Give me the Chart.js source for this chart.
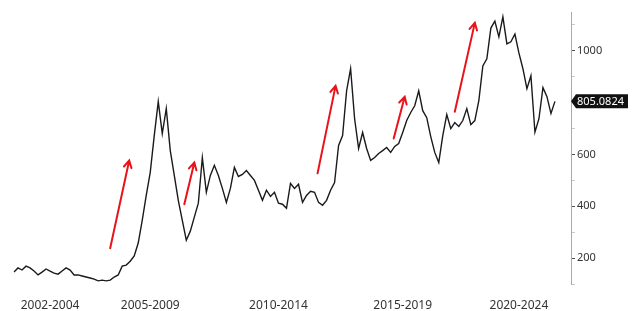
<!DOCTYPE html>
<html><head><meta charset="utf-8">
<script src="https://cdn.jsdelivr.net/npm/chart.js@4"></script>
<style>html,body{margin:0;padding:0;background:#fff;overflow:hidden}</style>
</head><body>
<canvas id="c" width="640" height="311"></canvas>
<script>
const dates = [
'2002-01','2002-03','2002-05','2002-07','2002-09','2002-11',
'2003-01','2003-03','2003-05','2003-07','2003-09','2003-11',
'2004-01','2004-03','2004-05','2004-07','2004-09','2004-11',
'2005-01','2005-03','2005-05','2005-07','2005-09','2005-11',
'2006-01','2006-03','2006-05','2006-07','2006-09','2006-11',
'2007-01','2007-03','2007-05','2007-07','2007-09','2007-11',
'2008-01','2008-03','2008-05','2008-07','2008-09','2008-11',
'2009-01','2009-03','2009-05','2009-07','2009-09','2009-11',
'2010-01','2010-03','2010-05','2010-07','2010-09','2010-11',
'2011-01','2011-03','2011-05','2011-07','2011-09','2011-11',
'2012-01','2012-03','2012-05','2012-07','2012-09','2012-11',
'2013-01','2013-03','2013-05','2013-07','2013-09','2013-11',
'2014-01','2014-03','2014-05','2014-07','2014-09','2014-11',
'2015-01','2015-03','2015-05','2015-07','2015-09','2015-11',
'2016-01','2016-03','2016-05','2016-07','2016-09','2016-11',
'2017-01','2017-03','2017-05','2017-07','2017-09','2017-11',
'2018-01','2018-03','2018-05','2018-07','2018-09','2018-11',
'2019-01','2019-03','2019-05','2019-07','2019-09','2019-11',
'2020-01','2020-03','2020-05','2020-07','2020-09','2020-11',
'2021-01','2021-03','2021-05','2021-07','2021-09','2021-11',
'2022-01','2022-03','2022-05','2022-07','2022-09','2022-11',
'2023-01','2023-03','2023-05','2023-07','2023-09','2023-11',
'2024-01','2024-03','2024-05','2024-07','2024-09','2024-11',
'2025-01','2025-03'
];
const values = [
146,162,154,169,162,150,
135,146,158,150,142,138,
150,162,154,135,135,131,
127,123,119,112,115,112,
115,127,135,169,173,188,
208,258,346,442,531,673,
804,681,777,615,519,423,
346,269,304,358,412,588,
454,519,558,519,469,415,
469,550,515,523,538,519,
500,462,423,462,438,454,
412,408,392,488,469,485,
415,442,458,454,415,404,
423,462,492,635,673,846,
931,738,623,685,623,577,
588,604,615,627,608,631,
642,685,731,762,788,846,
769,742,669,608,569,673,
754,700,723,708,731,777,
715,731,808,942,969,1088,
1115,1054,1131,1027,1035,1065,
992,931,854,904,686,738,
858,823,758,805.0824
];
const periodLabels = ['2002-2004','2005-2009','2010-2014','2015-2019','2020-2024'];
const periodLabelDates = ['2003-07','2007-09','2013-01','2018-03','2023-01'];
const yLabelValues = [200,400,600,1000];
const lastValueText = '805.0824';
// arrows: [start index, start value, end index, end value]
const arrowStartIdx = [24, 42.5, 75.75, 94.75, 110];
const arrowStartVal = [238, 408, 527, 662, 765];
const arrowEndIdx   = [28.75, 45, 80.25, 97.5, 115];
const arrowEndVal   = [577, 569, 865, 823, 1108];

const FONT = "'Noto Sans', 'DejaVu Sans', sans-serif";

const overlay = {
  id: 'overlay',
  afterDatasetsDraw(chart) {
    const {ctx, scales: {x, y}} = chart;
    ctx.save();
    ctx.strokeStyle = '#e8131b';
    ctx.lineWidth = 2;
    ctx.lineCap = 'round';
    for (let i = 0; i < arrowStartIdx.length; i++) {
      const x1 = x.getPixelForValue(arrowStartIdx[i]);
      const y1 = y.getPixelForValue(arrowStartVal[i]);
      const x2 = x.getPixelForValue(arrowEndIdx[i]);
      const y2 = y.getPixelForValue(arrowEndVal[i]);
      const a = Math.atan2(y2 - y1, x2 - x1);
      const h = 8, s = 0.5;
      ctx.beginPath();
      ctx.moveTo(x1, y1); ctx.lineTo(x2, y2);
      ctx.moveTo(x2 - h * Math.cos(a - s), y2 - h * Math.sin(a - s));
      ctx.lineTo(x2, y2);
      ctx.lineTo(x2 - h * Math.cos(a + s), y2 - h * Math.sin(a + s));
      ctx.stroke();
    }
    ctx.restore();
  },
  afterDraw(chart) {
    const {ctx, scales: {y}} = chart;
    const yy = y.getPixelForValue(values[values.length - 1]);
    const ax = y.left;
    ctx.save();
    ctx.fillStyle = '#111';
    ctx.beginPath();
    ctx.moveTo(ax, yy);
    ctx.lineTo(ax + 5, yy - 7);
    ctx.lineTo(ax + 57, yy - 7);
    ctx.lineTo(ax + 57, yy + 7);
    ctx.lineTo(ax + 5, yy + 7);
    ctx.closePath();
    ctx.fill();
    ctx.fillStyle = '#fff';
    ctx.font = '11px ' + FONT;
    ctx.textBaseline = 'middle';
    ctx.textAlign = 'left';
    ctx.fillText(lastValueText, ax + 6, yy + 0.5);
    ctx.restore();
  }
};

new Chart(document.getElementById('c'), {
  type: 'line',
  data: {
    labels: dates,
    datasets: [{
      data: values,
      borderColor: '#1a1a1a',
      borderWidth: 1.4,
      pointRadius: 0,
      tension: 0,
      fill: false
    }]
  },
  options: {
    responsive: false,
    animation: false,
    devicePixelRatio: 1,
    layout: {padding: {left: 14, top: 12, right: 0, bottom: 0}},
    plugins: {legend: {display: false}, tooltip: {enabled: false}},
    scales: {
      x: {
        type: 'category',
        grid: {display: false, drawTicks: false},
        border: {display: false},
        ticks: {
          autoSkip: false, maxRotation: 0, minRotation: 0, padding: 14,
          color: '#333', font: {family: FONT, size: 12},
          callback: function (v, i) {
            const k = periodLabelDates.indexOf(dates[i]);
            return k >= 0 ? periodLabels[k] : '';
          }
        },
        afterFit: s => { s.height = 27; }
      },
      y: {
        position: 'right',
        min: 100, max: 1150,
        ticks: {
          stepSize: 100, includeBounds: false, padding: 2,
          color: '#333', font: {family: FONT, size: 11},
          callback: v => yLabelValues.includes(v) ? String(v) : ''
        },
        grid: {
          drawOnChartArea: false, drawTicks: true, tickLength: 4,
          color: c => (c.tick && c.tick.value % 200 === 0) ? '#555' : '#c8c8c8'
        },
        border: {color: '#aaa', width: 1},
        afterFit: s => { s.width = 69; }
      }
    }
  },
  plugins: [overlay]
});
</script>
</body></html>
